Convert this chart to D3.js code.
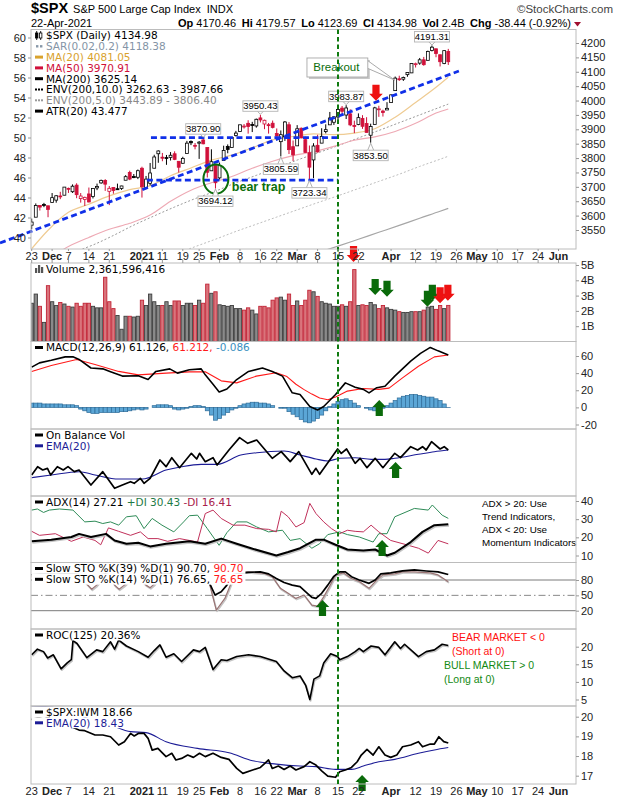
<!DOCTYPE html>
<html><head><meta charset="utf-8">
<script src="https://cdn.jsdelivr.net/npm/d3@7/dist/d3.min.js"></script>
<style>html,body{margin:0;padding:0;background:#fff}svg{display:block}</style>
</head><body>
<svg id="chart" width="620" height="800"></svg>
<script>
// ================= DATA =================
const prevClose = 3557.54;
const open = [3566.82,3594.52,3635.50,3638.55,3634.18,3645.87,3653.78,3668.28,3670.94,3694.73,
3683.05,3705.98,3659.13,3656.08,3675.27,3666.41,3696.25,3713.65,3722.39,3684.28,
3698.08,3693.42,3694.03,3723.03,3750.01,3736.19,3733.27,3764.61,3698.02,3712.20,
3764.71,3815.05,3803.14,3801.62,3802.23,3814.98,3788.73,3781.88,3816.22,3857.46,
3844.24,3851.68,3862.96,3836.83,3755.75,3778.05,3731.17,3791.84,3840.27,3836.66,
3878.30,3892.59,3910.49,3920.78,3916.40,3911.65,3939.61,3918.50,3915.86,3921.16,
3885.55,3857.07,3873.71,3915.80,3839.66,3842.51,3903.64,3863.99,3818.53,3793.58,
3844.39,3851.93,3891.99,3915.54,3924.52,3942.96,3973.59,3949.57,3953.50,3913.14,
3916.48,3937.60,3919.93,3879.34,3917.12,3969.31,3963.34,3967.25,3992.78,4034.44,
4075.57,4074.29,4089.95,4096.11,4124.71,4130.10,4141.58,4139.76,4174.14,4179.80,
4159.18,4128.42,4170.46];
const high = [3589.81,3642.31,3635.50,3644.31,3634.18,3678.45,3670.96,3682.73,3699.20,3697.41,
3708.45,3712.39,3678.49,3665.91,3697.61,3695.29,3711.27,3725.12,3726.70,3702.90,
3698.26,3711.24,3703.82,3740.51,3756.12,3744.63,3760.20,3769.99,3737.83,3783.04,
3811.55,3826.69,3817.86,3810.78,3820.96,3823.60,3788.73,3804.53,3859.75,3861.45,
3852.31,3859.23,3870.90,3836.83,3830.50,3778.05,3784.32,3843.09,3847.51,3872.42,
3894.56,3915.77,3918.35,3931.50,3925.99,3937.23,3950.43,3933.61,3921.98,3930.41,
3902.92,3895.98,3928.65,3925.02,3861.08,3914.50,3906.41,3874.47,3843.67,3851.69,
3881.06,3903.76,3917.35,3960.27,3944.99,3970.08,3981.04,3983.87,3969.62,3930.12,
3955.31,3949.13,3942.08,3919.54,3978.19,3981.83,3968.01,3994.41,4020.63,4083.42,
4086.23,4083.13,4098.19,4129.48,4131.76,4148.00,4151.69,4173.49,4191.31,4180.81,
4159.18,4175.02,4179.57];
const low = [3552.77,3594.52,3617.76,3629.33,3594.39,3645.87,3644.84,3657.17,3670.94,3678.88,
3678.83,3660.54,3645.18,3633.40,3645.84,3659.62,3688.57,3710.87,3685.84,3636.48,
3676.16,3689.28,3689.32,3723.03,3723.31,3730.21,3726.88,3662.71,3695.07,3705.34,
3764.71,3783.60,3789.02,3776.51,3791.50,3792.86,3749.62,3780.37,3816.22,3845.05,
3830.41,3797.16,3847.78,3732.48,3755.75,3694.12,3725.62,3791.84,3816.68,3836.66,
3874.93,3892.59,3902.64,3884.94,3890.39,3905.78,3923.85,3900.43,3885.03,3903.07,
3874.71,3805.59,3859.60,3814.04,3789.54,3842.51,3868.57,3818.86,3723.34,3730.19,
3819.25,3851.93,3885.73,3915.54,3915.21,3923.54,3953.44,3935.74,3910.86,3886.75,
3914.16,3901.57,3889.07,3853.50,3917.12,3943.25,3944.35,3966.98,3992.78,4034.44,
4068.14,4068.31,4082.54,4095.51,4114.82,4124.43,4120.87,4139.76,4170.75,4150.47,
4118.38,4126.35,4123.69];
const close = [3577.59,3635.41,3629.65,3638.35,3621.63,3662.45,3669.01,3666.72,3699.12,3691.96,
3702.25,3672.82,3668.10,3663.46,3647.49,3694.62,3701.17,3722.48,3709.41,3694.92,
3687.26,3690.01,3703.06,3735.36,3727.04,3732.04,3756.07,3700.65,3726.86,3748.14,
3803.79,3824.68,3799.61,3801.19,3809.84,3795.54,3768.25,3798.91,3851.85,3853.07,
3841.47,3855.36,3849.62,3750.77,3787.38,3714.24,3773.86,3826.31,3830.17,3871.74,
3886.83,3915.59,3911.23,3909.88,3916.38,3934.83,3932.59,3931.33,3913.97,3906.71,
3876.50,3881.37,3925.43,3829.34,3811.15,3901.82,3870.29,3819.72,3768.47,3841.94,
3821.35,3875.44,3898.81,3939.34,3943.34,3968.94,3962.71,3974.12,3915.46,3913.10,
3940.59,3910.52,3889.14,3909.52,3974.54,3971.09,3958.55,3972.89,4019.87,4077.91,
4073.94,4079.95,4097.17,4128.80,4127.99,4141.59,4124.66,4170.42,4185.47,4163.26,
4134.94,4173.42,4134.98];
// volume in billions
const volume = [2.5,3.1,2.3,1.25,3.65,2.6,2.35,2.55,2.45,2.3,
2.25,2.5,2.3,2.5,2.5,2.3,2.2,2.2,4.2,2.6,
2.15,1.7,0.8,1.65,1.65,1.6,1.65,2.7,2.35,3.1,
2.6,2.35,2.35,2.6,2.35,2.65,2.65,2.35,2.5,2.5,
2.35,2.7,2.5,3.75,3.15,3.25,2.4,2.35,2.3,2.35,
2.15,2.15,2.05,2.2,2.05,1.8,2.3,2.3,2.2,2.7,
2.85,2.9,2.7,3.1,2.35,2.65,2.35,2.7,3.35,3.25,
2.95,2.6,2.5,2.45,2.3,2.3,2.4,2.3,2.6,4.7,
2.35,2.4,2.35,2.55,2.4,2.15,2.35,2.2,2.1,2.05,
1.95,1.9,1.9,1.95,1.95,1.95,2.05,2.25,2.3,2.1,
2.35,2.15,2.36];
// moving averages / envelopes [dayIndex, value]
const ma20 = [[0,3484.8],[4,3549.0],[9,3611.3],[14,3639.5],[19,3668.4],[24,3690.4],[29,3704.2],[34,3738.4],[39,3765.7],[44,3792.8],[49,3810.4],[54,3835.4],[59,3863.0],[64,3875.0],[69,3884.3],[74,3881.2],[79,3886.9],[84,3902.0],[89,3941.9],[94,3993.3],[99,4045.9],[102,4081.05]];
const ma50 = [[0,3440],[4,3452.4],[9,3492.6],[14,3524.1],[19,3552.3],[24,3573.1],[29,3601.9],[34,3649.8],[39,3688.3],[44,3714.2],[49,3735.7],[54,3764.4],[59,3789.0],[64,3808.4],[69,3822.0],[74,3840.7],[79,3862.1],[84,3873.8],[89,3892.5],[94,3920.9],[99,3956.3],[102,3970.91]];
const ma200 = [[0,3132],[5,3143],[10,3157],[15,3180],[20,3210],[25,3243],[30,3272],[35,3300],[40,3326],[45,3350],[50,3376],[55,3400],[60,3424],[65,3448],[70,3471],[75,3494],[80,3518],[85,3542],[90,3566],[95,3591],[100,3615],[102,3625.14]];
const env10 = [[0,3445],[5,3457],[10,3473],[15,3498],[20,3531],[25,3567],[30,3599],[35,3630],[40,3659],[45,3685],[50,3714],[55,3740],[60,3766],[65,3793],[70,3818],[75,3843],[80,3870],[85,3896],[90,3923],[95,3950],[100,3977],[102,3987.66]];
const env5 = [[0,3289],[5,3300],[10,3315],[15,3339],[20,3371],[25,3405],[30,3436],[35,3465],[40,3492],[45,3518],[50,3545],[55,3570],[60,3595],[65,3620],[70,3645],[75,3669],[80,3694],[85,3719],[90,3744],[95,3771],[100,3796],[102,3806.40]];
// MACD
const macdLine = [[0,47],[1.9,52],[4.8,55],[8.2,59],[10.1,59],[11.6,56],[14.5,46],[17.4,45],[19.3,41.5],[22.2,36.5],[26.1,37],[28.5,32.5],[30.4,42],[33.8,45],[35.7,40],[38.6,44],[41.5,45],[42.5,38],[44.4,27],[45.9,18],[47.8,21.5],[50.2,32.5],[53.1,42],[56.5,46],[58.9,42],[61.4,36.5],[63.8,17],[65.7,15],[68.1,1],[70,-3],[71.5,1],[74.4,15],[76.8,28.6],[79.2,23.5],[81.2,21],[82.6,17],[84.5,23],[86.5,24.7],[88.9,36.5],[92.8,54],[95.2,63],[97.6,70],[99.5,66],[102,61.126]];
const macdSignal = [[0,42],[4.8,49],[11,56],[15.5,50],[21.3,42],[26.1,38],[32.9,40],[38.6,41.5],[42.5,41.5],[46.4,31],[50.2,28.6],[55,36.5],[59.9,40.4],[62.5,36],[64.7,27],[66.6,21],[68.6,15.5],[70.5,11],[72.5,9],[74.4,12],[77.3,19],[81.2,22],[85,21],[87.5,22.5],[90.8,34.5],[94.7,48],[98.6,59],[102,61.212]];
const macdHist = [5,5,5,4,4,4,4,4,3,3,3,2,
-2,-4,-6,-7,-7,-6,-6,-6,-6,-6,-5,-5,
-4,-3,-2,-3,-2,0,2,3,3,3,2,
-2,-3,-2,-1,
1,2,2,1,
-4,-9,-15,-13,-9,-6,-3,-1,
2,4,5,6,6,5,5,4,2,
0,-1,-1,
-5,-8,-11,-14,-17,-18,-16,-13,-9,-4,
1,4,7,9,10,8,5,
2,0,-1,
-3,-4,-3,-1,
2,5,8,11,13,14,15,15,14,13,12,12,10,8,4,
-0.086];
// On Balance Volume (billions, relative)
const obvLine = [[0,100],[1.45,103.33],[2.7,102],[3.86,102.67],[4.64,100],[6.28,103.33],[7.73,102],[8.89,103.33],[10.43,101.33],[11.6,102],[14.5,96],[17.4,101.33],[20.3,94.67],[22.2,96],[24.2,97.33],[25.1,96.67],[26.6,98.67],[27.5,96.67],[29,98.67],[31.4,106],[32.9,103.33],[34.3,106.93],[36.2,102.93],[39.1,108.67],[40.4,106.4],[41.1,108.67],[42.5,105.33],[44.4,106.93],[45.4,104],[48.3,110],[50.9,114.93],[52.9,112.67],[55.1,114],[58.9,106.67],[61.1,109.33],[63.3,105.33],[65.4,109.33],[68.6,100.27],[69.6,102.67],[70.5,100.27],[74.9,110.4],[75.8,108.67],[77.1,110.4],[79.2,104.67],[80.4,106.67],[82.1,102.93],[84.1,106.67],[86,102.93],[88.9,108.67],[90.3,106.93],[92.8,111.33],[94.5,110],[95.7,111.33],[96.6,110],[97.9,113.33],[100,110.4],[101,111.33],[102,110]];
const obvEma = [[0,98.93],[4.8,100],[11.6,101.33],[15.5,100],[21.3,98.4],[27.1,98.4],[32.9,102],[36.7,103.33],[41.5,104.27],[45.4,104.27],[51.2,108],[55.1,108.93],[61.8,109.6],[65.7,108],[69.6,106.4],[72.5,105.6],[75.4,106.67],[79.2,106.93],[83.1,106.27],[86.5,106.27],[88.9,106.67],[94.7,108.27],[98.6,109.33],[102,110]];
// ADX
const adxLine = [[0,17.8],[4.8,18.7],[9.7,20.2],[11.6,21.9],[14.5,20.2],[18.2,21.9],[20.3,18.3],[23.2,16.5],[26.1,17],[29,15],[32.9,16.5],[38.6,17.8],[42.5,16.5],[46.4,19.3],[50.2,16.5],[54.1,13.7],[59.9,10],[62.8,11.9],[65.7,14],[69.6,18.7],[71.5,18.7],[74.4,15.9],[77.3,13.3],[81.2,12.8],[84.1,13.3],[87,10],[88.9,11.5],[92.8,17.4],[95.7,23],[98.6,26.7],[102,27.21]];
const pdiLine = [[0,35],[1.4,35.6],[2.9,33.7],[4.3,35],[6.8,35.6],[10.1,35],[13,28.5],[15.5,28.9],[17.4,27.6],[19.3,28.5],[21.3,26.7],[23.2,31.3],[25.6,31.9],[27.5,24.8],[29.5,30.4],[31.9,26.7],[34.8,23],[37.2,28.5],[38.6,31.9],[40.6,32.2],[43,24.8],[45.9,15.6],[47.8,22.6],[50.2,28.5],[52.7,28.5],[55.1,25.7],[58,23],[61.4,23.9],[63.3,18.3],[65.7,19.3],[68.6,14],[70.5,16.5],[72.5,21.5],[75.4,23],[77.3,21.5],[80.2,20.2],[83.6,17.4],[85,22],[87,22],[88.9,31.3],[93.7,35.9],[97.1,35],[98.1,37.8],[100.5,32.2],[102,30.43]];
const mdiLine = [[0,23.3],[1.9,21.1],[5.8,22],[9.7,17.8],[12.6,20.2],[15.5,18.3],[16.9,15.9],[18.8,25.2],[21.3,23.3],[24.2,21.1],[26.6,23],[28.5,19.3],[30.9,19.3],[33.3,17.8],[36.2,19.3],[38.6,18.3],[40.6,17.4],[42.5,33.1],[44.4,35],[46.4,30.4],[49.3,26.7],[52.2,26.7],[55.1,24.8],[58,24.4],[59.9,23],[61.1,34.4],[62.8,31.3],[64.7,25.7],[66.7,28.1],[68.1,38.7],[69.6,33.1],[71.5,28.5],[73.4,24.8],[75.4,22],[77.3,23.9],[79.2,23.3],[81.2,23],[83.1,26.7],[85,23],[87.9,18.3],[91.8,15.9],[94.7,14],[97.1,11.3],[99.5,18.3],[102,16.41]];
// Slow stochastics
const sto39 = [[0,90],[3,93],[6,91],[9,94],[12,90],[14,86],[16,88],[18,92],[21,86],[24,89],[27,86],[30,95],[33,93],[36,89],[39,96],[42,93],[43.3,78],[44.9,50.7],[46.4,57],[47.8,70],[49.3,90],[50.7,93],[53,95],[56,96],[58,92],[59.9,83],[61.8,75],[63.8,70],[65.7,67],[67.1,57],[68.6,46],[69.6,44],[71,54],[72.5,70],[73.9,86.5],[75.4,96],[76.8,96],[78.3,86.5],[80.2,80],[82.6,73.5],[84.1,80],[85.5,92],[87.9,94],[90.8,98],[93.7,99.6],[96.6,97.6],[99.5,96],[102,90.7]];
const sto14 = [[0,86],[3,91],[6,84],[9,93],[12,84],[13.5,72],[14.7,62],[15.9,70],[17,80],[18.5,88],[19.5,80],[20.3,70],[21.4,62],[22.7,70],[24,80],[26,86],[27,78],[28,70],[29,65],[30,72],[31,82],[33,92],[36,85],[39,97],[42,92],[43.3,80],[45.2,21],[47.3,44],[49.3,83],[50.7,95],[53,96],[57,93],[58.9,86.5],[60.9,63.7],[62.8,54],[64.7,44],[66.7,50.7],[68.6,31],[70,29],[71.5,47],[72.9,67],[74.4,90],[76.3,94],[78.3,83],[80.2,77],[82.6,63.7],[84.5,80],[86,90],[88.9,92],[90.8,96],[93.7,96],[97.6,94],[99.5,90],[102,76.65]];
// ROC(125) %
const rocLine = [[0,17.7],[1.4,19.3],[2.9,18.6],[3.9,16.8],[5.3,17.7],[7.2,13.7],[8.7,15.4],[9.7,16.3],[10.1,21.7],[11.1,20.9],[13.5,16.9],[15.9,19.1],[17.4,18.6],[19.3,21.4],[20.3,19.3],[21.3,21.9],[23.2,20.2],[26.1,18.6],[28.5,17],[30,18.9],[31.4,20.5],[32.9,17],[34.8,18],[36.7,15.8],[39.6,19.1],[41.1,18.6],[42.5,19.8],[44.4,13.5],[46.4,16.3],[47.8,16.1],[50.2,17.2],[53.1,17.7],[56,17.2],[59.9,15.8],[61.8,13.1],[63.8,11.2],[65.7,11.7],[67.1,9],[68.1,5],[69.1,10.8],[70.5,11.7],[71.5,15.4],[73.2,18],[74.9,17.2],[75.4,16.3],[77.3,17.2],[79.2,18.6],[80.2,19.5],[81.2,18.6],[83.1,20.2],[85,19.8],[86.5,17.7],[88.9,21.4],[90.3,19.5],[91.3,20.7],[94.7,17.2],[96.6,18.6],[98.6,19.1],[100.5,20.7],[102,20.36]];
// $SPX:IWM ratio
const iwmLine = [[0,19.85],[3,20.05],[6,19.75],[9,19.55],[11.6,19.32],[13,19.29],[15.5,19.07],[17.4,19.07],[19.3,18.98],[21.3,18.56],[22.7,18.73],[24.2,19.15],[25.1,19.02],[26.1,19.15],[27.5,19.15],[28.5,18.9],[29.5,18.3],[30.9,18.39],[32.9,17.97],[34.3,18.14],[35.3,17.8],[36.7,17.88],[38.2,18.05],[39.6,17.93],[41.1,18.14],[42.5,17.97],[44.4,18.14],[46.4,17.93],[48.3,17.83],[50.2,17.37],[51.7,17.12],[54.1,17.29],[56,17.42],[58,17.8],[58.9,17.37],[60.4,17.49],[61.8,17.32],[63.3,17.49],[64.7,17.29],[66.7,17.46],[68.1,17.71],[69.6,17.54],[71,17.25],[72.5,16.98],[74.4,16.92],[75.4,17.2],[76.8,17.29],[78.3,17.42],[79.7,17.71],[80.7,18.05],[82.1,18.34],[83.6,18.05],[85,18.47],[86.5,18.05],[87.9,17.93],[89.4,18.05],[90.8,18.47],[92.8,18.56],[94.7,18.73],[95.7,18.47],[97.6,18.61],[98.6,18.61],[99.7,18.98],[100.9,18.73],[102,18.66]];
const iwmEma = [[0,20.55],[3,20.52],[6,20.45],[10,20.2],[14,19.9],[19.3,19.58],[24.2,19.24],[28,19.19],[32.9,18.73],[40.6,18.39],[48.3,18.17],[54.1,17.76],[59.9,17.59],[65.7,17.49],[69.6,17.46],[74.4,17.32],[78.3,17.32],[81.2,17.49],[85,17.71],[88.9,17.83],[94.7,18.14],[98.6,18.31],[102,18.43]];
// axis ticks
const xTickIdx = [0,5,9,14,19,27,32,37,41,46,51,56,60,65,70,75,80,88,94,99,104,109,114,119,124,129];
const xTickLabel = ['23','Dec','7','14','21','2021','11','19','25','Feb','8','16','22','Mar','8','15','22','Apr','12','19','26','May','10','17','24','Jun'];
const xTickBold = ['Dec','2021','Feb','Mar','Apr','May','Jun'];
const priceTicks = [4200,4150,4100,4050,4000,3950,3900,3850,3800,3750,3700,3650,3600,3550];
const leftTicks = [60,58,56,54,52,50,48,46,44,42,40];
const volTicks = [5,4,3,2,1];
const macdTicks = [60,40,20,0,-20];
const adxTicks = [40,30,20,10];
const stoTicks = [80,50,20];
const rocTicks = [20,15,10,5];
const iwmTicks = [20,19,18,17];
// header values
const quote = [['Op','4170.46'],['Hi','4179.57'],['Lo','4123.69'],['Cl','4134.98'],['Vol','2.4B'],['Chg','-38.44 (-0.92%)']];
// annotations
const trendUp = [[-7.76,3504.8],[104.6,4102.7]];
const resistance = [[29.2,3870.90],[75,3870.90]];
const support = [[28.2,3723.34],[75,3723.34]];
const markerDay = 75;
const priceLabels = [
 {i:42,v:3870.90,pos:'above'},{i:56,v:3950.43,pos:'above'},{i:77,v:3983.87,pos:'above'},{i:98,v:4191.31,pos:'above'},
 {i:45,v:3694.12,pos:'below'},{i:61,v:3805.59,pos:'below'},{i:68,v:3723.34,pos:'below'},{i:83,v:3853.50,pos:'below'}];
const bearTrap = {i:45.1,v:3727,textI:49.0,textV:3699.5};
const breakout = {i0:67.4,i1:82.3,v0:4147.9,v1:4081.8,ti:88.9,tv:4071};
const arrowsMain = [{i:84.3,v:3999,dir:'down',c:'red'}];
const arrowsVol = [{i:84.1,v:3.04,dir:'down',c:'green'},{i:87.0,v:2.93,dir:'down',c:'green'},{i:96.9,v:2.27,dir:'down',c:'green'},{i:98.1,v:2.67,dir:'down',c:'green'},{i:100.0,v:2.5,dir:'down',c:'red'},{i:101.9,v:2.67,dir:'down',c:'red'},{i:78.8,v:5.2,dir:'down',c:'red'}];
const arrowsMacd = [{i:85.1,v:8.6,dir:'up',c:'green'}];
const arrowsObv = [{i:89.1,v:105.2,dir:'up',c:'green'}];
const arrowsAdx = [{i:85.8,v:18.5,dir:'up',c:'green'}];
const arrowsSto = [{i:71.2,v:40.9,dir:'up',c:'green'}];
const arrowsIwm = [{i:80.9,v:17.03,dir:'up',c:'green'}];

// ================= DRAW =================
const svg = d3.select('#chart');
const FA = "'Liberation Sans', Arial, Helvetica, sans-serif";
const FL = "'DejaVu Sans', Verdana, sans-serif";
const RED = '#d0103a', GRN = '#0b6e0b', ARED = '#ee1111', NAVY = '#1c1c96';
const PL = 31, PR = 576;
const x = d3.scaleLinear().domain([0,102]).range([31.7, 31.7+102*4.084]);
const P = {main:[29.5,249],vol:[263,341.5],macd:[341.5,429],obv:[429,496],adx:[496,562.5],sto:[562.5,629],roc:[629,706],iwm:[706,784]};
const yP = d3.scaleLinear().domain([3550,4200]).range([230,43]);
const yL = d3.scaleLinear().domain([40,60]).range([237.5,37.5]);
const yV = d3.scaleLinear().domain([0,5]).range([341.5,265]);
const yM = d3.scaleLinear().domain([-20,60]).range([424.5,356]);
const yO = d3.scaleLinear().domain([91.6,118]).range([496,430]);
const yA = d3.scaleLinear().domain([10,40]).range([555.5,501]);
const yS = d3.scaleLinear().domain([20,80]).range([610.7,580]);
const yR = d3.scaleLinear().domain([5,20]).range([699.5,646.7]);
const yI = d3.scaleLinear().domain([17,20]).range([775.7,716.7]);

svg.append('rect').attr('width',620).attr('height',800).attr('fill','#fff');
const defs = svg.append('defs');
Object.entries(P).forEach(([k,[t,b]])=>{
  defs.append('clipPath').attr('id','clip-'+k).append('rect').attr('x',PL).attr('y',t).attr('width',PR-PL).attr('height',b-t);
});
function pg(k){ return svg.append('g').attr('clip-path',`url(#clip-${k})`); }
function drawLine(g,data,ys,color,w,opt={}){
  const gen = d3.line().x(d=>x(d[0])).y(d=>ys(d[1])).curve(opt.smooth?d3.curveMonotoneX:d3.curveLinear);
  if(opt.shadow) g.append('path').attr('d',gen(data)).attr('transform','translate(0.7,1.2)').attr('fill','none').attr('stroke','#c4c4c4').attr('stroke-width',w+0.4).attr('stroke-linejoin','round');
  g.append('path').attr('d',gen(data)).attr('fill','none').attr('stroke',color).attr('stroke-width',w)
   .attr('stroke-dasharray',opt.dash||null).attr('stroke-linejoin','round').attr('opacity',opt.op||1);
}

// ---- main panel ----
const gm = pg('main');
drawLine(gm,env5,yP,'#bdbdbd',1,{smooth:true,dash:'2,2'});
drawLine(gm,env10,yP,'#9a9a9a',1,{smooth:true,dash:'2,2'});
drawLine(gm,ma200,yP,'#a6a6a6',1.2,{smooth:true});
drawLine(gm,ma50,yP,'#eea9b4',1.1,{smooth:true});
drawLine(gm,ma20,yP,'#efcb92',1.2,{smooth:true});
close.forEach((c,i)=>{
  const pc = i?close[i-1]:prevClose;
  const col = c>=pc?'#000':RED;
  const o = open[i], xc = x(i);
  gm.append('line').attr('x1',xc).attr('x2',xc).attr('y1',yP(high[i])).attr('y2',yP(low[i])).attr('stroke',col).attr('stroke-width',1);
  const t = yP(Math.max(o,c)), b = yP(Math.min(o,c));
  gm.append('rect').attr('x',xc-1.45).attr('y',t).attr('width',2.9).attr('height',Math.max(b-t,0.9))
    .attr('fill',c>o?'#fff':col).attr('stroke',col).attr('stroke-width',0.8);
});
// blue dashed lines
const ga = svg.append('g');
const lineP = d3.line().x(d=>x(d[0])).y(d=>yP(d[1]));
[trendUp,resistance,support].forEach(d=>{
  ga.append('path').attr('d',lineP(d)).attr('stroke','#1030e8').attr('stroke-width',2.8).attr('stroke-dasharray','6,3.5').attr('fill','none');
});
// bear trap
ga.append('ellipse').attr('cx',x(bearTrap.i)).attr('cy',yP(bearTrap.v)).attr('rx',12.5).attr('ry',14.5).attr('fill','none').attr('stroke',GRN).attr('stroke-width',2);
ga.append('text').attr('x',x(bearTrap.textI)).attr('y',yP(bearTrap.textV)+4).attr('font-family',FA).attr('font-weight','bold').attr('font-size',12.5).attr('fill',GRN).text('bear trap');
// price labels
priceLabels.forEach(p=>{
  const px = x(p.i), py = yP(p.pos==='above'?high[p.i]:low[p.i]);
  const bw=35, bh=10.5;
  const by = p.pos==='above' ? py-3.5-bh : py+7.5;
  const edge = p.pos==='above' ? by+bh : by;
  ga.append('path').attr('d',`M${px-3},${edge} L${px},${p.pos==='above'?py-0.5:py+0.5} L${px+3},${edge}`).attr('fill','#fff').attr('stroke','#a8a8a8').attr('stroke-width',0.9);
  ga.append('rect').attr('x',px-bw/2).attr('y',by).attr('width',bw).attr('height',bh).attr('fill','#fff').attr('stroke','#b4b4b4').attr('stroke-width',0.9);
  ga.append('text').attr('x',px).attr('y',by+8.4).attr('text-anchor','middle').attr('font-family',FA).attr('font-size',9.5).attr('fill','#000').text(p.v.toFixed(2));
});
// breakout callout
{
  const x0=x(breakout.i0), x1=x(breakout.i1), y0=yP(breakout.v0), y1=yP(breakout.v1);
  const tx=x(breakout.ti), ty=yP(breakout.tv);
  ga.append('rect').attr('x',x0+2).attr('y',y0+2).attr('width',x1-x0).attr('height',y1-y0).attr('fill','#c8c8c8');
  ga.append('path').attr('d',`M${x1-1},${y0+2} L${tx},${ty} L${x1-1},${y0+10} Z`).attr('fill','#fff').attr('stroke','#a0a0a0').attr('stroke-width',0.9);
  ga.append('rect').attr('x',x0).attr('y',y0).attr('width',x1-x0).attr('height',y1-y0).attr('fill','#fff').attr('stroke','#a8a8a8').attr('stroke-width',0.9);
  ga.append('text').attr('x',(x0+x1)/2-1).attr('y',(y0+y1)/2+4).attr('text-anchor','middle').attr('font-family',FA).attr('font-size',11.5).attr('fill',GRN).text('Breakout');
}

// ---- volume ----
const gv = pg('vol');
volume.forEach((v,i)=>{
  const pc = i?close[i-1]:prevClose, up = close[i]>=pc;
  gv.append('rect').attr('x',x(i)-1.65).attr('y',yV(v)).attr('width',3.3).attr('height',yV(0)-yV(v))
    .attr('fill',up?'#8a8a8a':'#d9747c').attr('stroke',up?'#3d3d3d':'#c22436').attr('stroke-width',0.9);
});

// ---- MACD ----
const gmc = pg('macd');
macdHist.forEach((h,i)=>{
  const y0=yM(0), y1=yM(h);
  gmc.append('rect').attr('x',x(i)-2.04).attr('y',Math.min(y0,y1)).attr('width',4.08).attr('height',Math.abs(y1-y0))
    .attr('fill','#5ba6d6').attr('stroke','#2d6b98').attr('stroke-width',0.7);
});
drawLine(gmc,macdSignal,yM,'#ff1a1a',1.1);
drawLine(gmc,macdLine,yM,'#000',1.6);

// ---- OBV ----
const go = pg('obv');
drawLine(go,obvEma,yO,NAVY,1.1,{smooth:true});
drawLine(go,obvLine,yO,'#000',1.7);

// ---- ADX ----
const gad = pg('adx');
drawLine(gad,pdiLine,yA,'#2e8b57',1);
drawLine(gad,mdiLine,yA,'#c0305a',1);
drawLine(gad,adxLine,yA,'#000',2,{shadow:true});

// ---- STO ----
const gs = pg('sto');
[80,20].forEach(v=>gs.append('line').attr('x1',PL).attr('x2',PR).attr('y1',yS(v)).attr('y2',yS(v)).attr('stroke','#7a7a7a').attr('stroke-width',1));
gs.append('line').attr('x1',PL).attr('x2',PR).attr('y1',yS(50)).attr('y2',yS(50)).attr('stroke','#888').attr('stroke-width',1).attr('stroke-dasharray','7,3,1.5,3');
drawLine(gs,sto14,yS,'#9a7474',1.2,{shadow:true});
drawLine(gs,sto39,yS,'#000',1.7);

// ---- ROC ----
const gr = pg('roc');
drawLine(gr,rocLine,yR,'#000',1.6,{shadow:true});

// ---- IWM ----
const gi = pg('iwm');
drawLine(gi,iwmEma,yI,NAVY,1.1,{smooth:true});
drawLine(gi,iwmLine,yI,'#000',1.7);

// ---- legends ----
function icon(g,type,cx,cy,col){
  if(type==='line') g.append('rect').attr('x',cx).attr('y',cy-1.5).attr('width',8).attr('height',3).attr('fill',col);
  else if(type==='dots'){ [0,3,6].forEach(d=>g.append('rect').attr('x',cx+d).attr('y',cy-1).attr('width',2).attr('height',2).attr('fill',col)); }
  else if(type==='sar'){ [1,5].forEach(d=>g.append('rect').attr('x',cx+d).attr('y',cy-1.2).attr('width',2.4).attr('height',2.4).attr('fill',col)); }
  else if(type==='candle'){
    [[0.5,'#000',true],[4.5,'#000',false]].forEach(([d,c,f])=>{
      g.append('line').attr('x1',cx+d+1.2).attr('x2',cx+d+1.2).attr('y1',cy-4.5).attr('y2',cy+4.5).attr('stroke',c).attr('stroke-width',0.9);
      g.append('rect').attr('x',cx+d).attr('y',cy-2.5).attr('width',2.4).attr('height',5).attr('fill',f?c:'#fff').attr('stroke',c).attr('stroke-width',0.8);
    });
  } else if(type==='vol'){
    [[0,5],[3,8],[6,6]].forEach(([d,h])=>g.append('rect').attr('x',cx+d).attr('y',cy+4-h).attr('width',2.2).attr('height',h).attr('fill','#555'));
  }
}
function legend(top,rows,fs){
  fs = fs||10.5;
  rows.forEach((r,k)=>{
    const cy = top+6+k*10.8;
    const g = svg.append('g');
    const bg = g.append('rect').attr('fill','#fff');
    icon(g,r.icon,35,cy,r.ic||'#000');
    const t = g.append('text').attr('x',46).attr('y',cy+3.8).attr('font-family',FL).attr('font-size',fs).attr('xml:space','preserve');
    r.parts.forEach(p=>t.append('tspan').attr('fill',p[1]||'#000').text(p[0]));
    const w = t.node().getComputedTextLength();
    bg.attr('x',32).attr('y',cy-5.4).attr('width',w+16).attr('height',10.8);
  });
}
legend(P.main[0],[
  {icon:'candle',parts:[['$SPX (Daily) 4134.98']]},
  {icon:'sar',ic:'#8797a8',parts:[['SAR(0.02,0.2) 4118.38','#8494a6']]},
  {icon:'line',ic:'#d9a22d',parts:[['MA(20) 4081.05','#d9a22d']]},
  {icon:'line',ic:RED,parts:[['MA(50) 3970.91',RED]]},
  {icon:'line',parts:[['MA(200) 3625.14']]},
  {icon:'dots',parts:[['ENV(200,10.0) 3262.63 - 3987.66']]},
  {icon:'dots',ic:'#999',parts:[['ENV(200,5.0) 3443.89 - 3806.40','#8a8a8a']]},
  {icon:'line',parts:[['ATR(20) 43.477']]}
]);
legend(P.vol[0],[{icon:'vol',parts:[['Volume 2,361,596,416']]}]);
legend(P.macd[0],[{icon:'line',parts:[['MACD(12,26,9) 61.126, '],['61.212,','#ff1a1a'],[' -0.086','#3a8fc0']]}]);
legend(P.obv[0],[{icon:'line',parts:[['On Balance Vol']]},{icon:'line',ic:NAVY,parts:[['EMA(20)',NAVY]]}]);
legend(P.adx[0],[{icon:'line',parts:[['ADX(14) 27.21 '],['+DI 30.43 ','#1e7a46'],['-DI 16.41','#a8204a']]}]);
legend(P.sto[0],[{icon:'line',parts:[['Slow STO %K(39) %D(1) 90.70, '],['90.70','#ff1a1a']]},{icon:'line',parts:[['Slow STO %K(14) %D(1) 76.65, '],['76.65','#ff1a1a']]}]);
legend(P.roc[0],[{icon:'line',parts:[['ROC(125) 20.36%']]}]);
legend(P.iwm[0],[{icon:'line',parts:[['$SPX:IWM 18.66']]},{icon:'line',ic:NAVY,parts:[['EMA(20) 18.43',NAVY]]}]);

// ---- side notes ----
const notes = svg.append('g').attr('font-family',FA);
[['ADX > 20: Use',0],['Trend Indicators,',1],['ADX < 20: Use',2],['Momentum Indicators',3]].forEach(([t,k])=>
  notes.append('text').attr('x',482).attr('y',P.adx[0]+11+k*13).attr('font-size',9.8).attr('fill','#000').text(t));
[['BEAR MARKET < 0','#ff1010',452],['(Short at 0)','#ff1010',452],['BULL MARKET > 0','#138a13',444],['(Long at 0)','#138a13',444]].forEach(([t,c,xx],k)=>
  notes.append('text').attr('x',xx).attr('y',P.roc[0]+12+k*14).attr('font-size',10.5).attr('fill',c).text(t));

// ---- arrows ----
function arrow(g,cx,tip,dir,col){
  const s = dir==='down'?-1:1, L=16, hl=7, sw=3.6, hw=6.8;
  const pts = [[cx-sw,tip+s*L],[cx+sw,tip+s*L],[cx+sw,tip+s*hl],[cx+hw,tip+s*hl],[cx,tip],[cx-hw,tip+s*hl],[cx-sw,tip+s*hl]];
  g.append('polygon').attr('points',pts.map(p=>p.join(',')).join(' ')).attr('fill',col==='red'?ARED:'#0a6a0a');
}
const gArr = svg.append('g');
[[arrowsMain,yP],[arrowsVol,yV],[arrowsMacd,yM],[arrowsObv,yO],[arrowsAdx,yA],[arrowsSto,yS],[arrowsIwm,yI]].forEach(([arr,sc])=>
  arr.forEach(a=>arrow(gArr,x(a.i),sc(a.v),a.dir,a.c)));

// ---- borders ----
const gb = svg.append('g');
Object.values(P).forEach(([t,b])=>gb.append('rect').attr('x',PL).attr('y',t).attr('width',PR-PL).attr('height',b-t).attr('fill','none').attr('stroke','#bcbcbc').attr('stroke-width',1));

// ---- vertical green marker ----
svg.append('line').attr('x1',x(markerDay)).attr('x2',x(markerDay)).attr('y1',P.main[0]).attr('y2',P.iwm[1])
  .attr('stroke','#0f7a0f').attr('stroke-width',2).attr('stroke-dasharray','4.5,3');

// ---- axes ----
function rightAxis(sc,ticks,fmt){
  const g = svg.append('g').attr('transform',`translate(${PR},0)`).call(d3.axisRight(sc).tickValues(ticks).tickFormat(fmt||(d=>d)).tickSize(3).tickPadding(2));
  g.select('.domain').remove();
  g.selectAll('text').attr('font-family',FA).attr('font-size',11).attr('fill','#222');
  g.selectAll('line').attr('stroke','#999');
}
rightAxis(yP,priceTicks);
rightAxis(yV,volTicks,d=>d+'B');
rightAxis(yM,macdTicks);
rightAxis(yA,adxTicks);
rightAxis(yS,stoTicks);
rightAxis(yR,rocTicks);
rightAxis(yI,iwmTicks);
{
  const g = svg.append('g').attr('transform',`translate(${PL},0)`).call(d3.axisLeft(yL).tickValues(leftTicks).tickSize(3).tickPadding(2));
  g.select('.domain').remove();
  g.selectAll('text').attr('font-family',FA).attr('font-size',11).attr('fill','#222');
  g.selectAll('line').attr('stroke','#999');
}
[260,795].forEach(by=>{
  xTickIdx.forEach((ix,k)=>{
    const lab = xTickLabel[k];
    svg.append('text').attr('x',x(ix)).attr('y',by).attr('text-anchor','middle').attr('font-family',FA).attr('font-size',11)
      .attr('font-weight',xTickBold.includes(lab)?'bold':'normal').attr('fill','#222').text(lab);
  });
});
xTickIdx.forEach(ix=>{
  svg.append('line').attr('x1',x(ix)).attr('x2',x(ix)).attr('y1',P.vol[0]-3).attr('y2',P.vol[0]).attr('stroke','#999');
  svg.append('line').attr('x1',x(ix)).attr('x2',x(ix)).attr('y1',P.main[1]).attr('y2',P.main[1]+2).attr('stroke','#999');
});

// ---- header ----
const hd = svg.append('g').attr('font-family',FA);
const t1 = hd.append('text').attr('x',31).attr('y',13).attr('font-size',14.5).attr('font-weight','bold').text('$SPX');
const t1w = t1.node().getComputedTextLength();
const t2 = hd.append('text').attr('x',31+t1w+5).attr('y',13).attr('font-size',11).text('S&P 500 Large Cap Index');
const t2w = t2.node().getComputedTextLength();
hd.append('text').attr('x',31+t1w+5+t2w+6).attr('y',13).attr('font-size',11).text('INDX');
hd.append('text').attr('x',613).attr('y',13).attr('text-anchor','end').attr('font-size',11.5).attr('fill','#444').text('©StockCharts.com');
hd.append('text').attr('x',31).attr('y',26.5).attr('font-size',11).text('22-Apr-2021');
{
  const items = quote.map(([a,b])=>{
    const t = hd.append('text').attr('y',26.5).attr('font-size',11).attr('xml:space','preserve');
    t.append('tspan').attr('font-weight','bold').text(a+' ');
    t.append('tspan').text(b);
    return t;
  });
  const ws = items.map(t=>t.node().getComputedTextLength());
  const start = 178, end = 571;
  const gap = (end-start-d3.sum(ws))/(items.length-1);
  let cx = start;
  items.forEach((t,k)=>{ t.attr('x',cx); cx += ws[k]+gap; });
}
hd.append('path').attr('d','M574,22 L581,22 L577.5,26.5 Z').attr('fill','#a01030');
</script>
</body></html>
